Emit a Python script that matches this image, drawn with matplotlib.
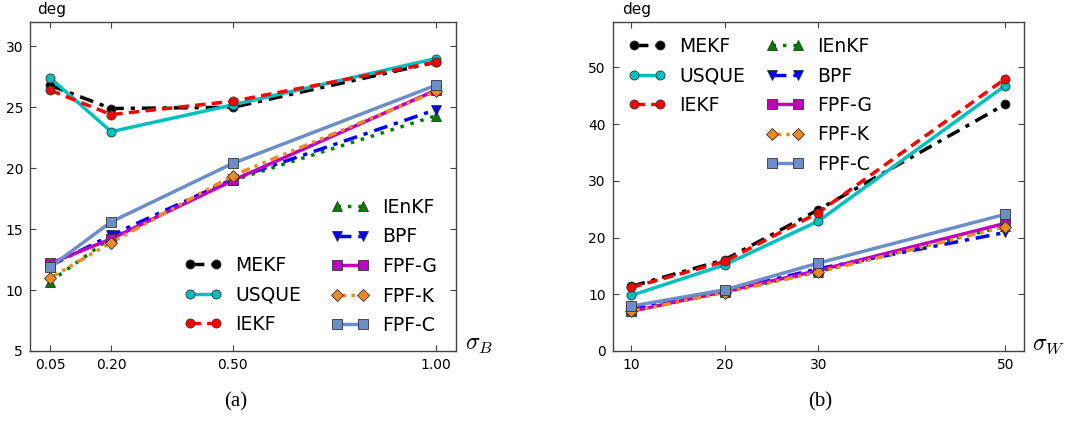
import matplotlib
matplotlib.use("Agg")
import matplotlib.pyplot as plt

# ---------------- data ----------------
sigma_B = [0.05, 0.20, 0.50, 1.00]
sigma_B_labels = ["0.05", "0.20", "0.50", "1.00"]
sigma_W = [10, 20, 30, 50]
sigma_W_labels = ["10", "20", "30", "50"]

a_MEKF = [26.8, 24.9, 25.0, 28.7]
a_USQUE = [27.4, 23.0, 25.2, 29.0]
a_IEKF = [26.4, 24.4, 25.5, 28.7]
a_IEnKF = [10.7, 14.3, 19.0, 24.3]
a_BPF = [12.0, 14.5, 19.1, 24.8]
a_FPFG = [12.2, 14.2, 19.0, 26.4]
a_FPFK = [11.0, 13.9, 19.4, 26.3]
a_FPFC = [11.9, 15.6, 20.4, 26.8]

b_MEKF = [11.4, 16.1, 24.9, 43.5]
b_USQUE = [9.8, 15.2, 22.9, 46.8]
b_IEKF = [11.2, 15.8, 24.4, 48.0]
b_IEnKF = [7.2, 10.4, 14.0, 22.0]
b_BPF = [7.6, 10.6, 14.5, 20.9]
b_FPFG = [7.0, 10.5, 14.2, 22.5]
b_FPFK = [7.0, 10.3, 13.9, 21.9]
b_FPFC = [7.9, 10.8, 15.5, 24.1]

names = ["MEKF", "USQUE", "IEKF", "IEnKF", "BPF", "FPF-G", "FPF-K", "FPF-C"]

styles = {
    "MEKF": dict(color="black", ls=(0, (4, 2, 1.2, 2)), marker="o", mfc="black"),
    "USQUE": dict(color="#00BFBF", ls="-", marker="o", mfc="#00BFBF"),
    "IEKF": dict(color="red", ls=(0, (3, 1.8)), marker="o", mfc="red"),
    "IEnKF": dict(color="#008000", ls=(0, (1, 2)), marker="^", mfc="#008000"),
    "BPF": dict(color="blue", ls=(0, (4, 2, 1.2, 2)), marker="v", mfc="blue"),
    "FPF-G": dict(color="#BF00BF", ls="-", marker="s", mfc="#BF00BF"),
    "FPF-K": dict(color="#EE8A22", ls=(0, (2.5, 1.5, 1, 1.5, 1, 1.5)), marker="D", mfc="#EE8A22"),
    "FPF-C": dict(color="#6C8EC8", ls="-", marker="s", mfc="#6C8EC8"),
}
ms = {"o": 6.5, "^": 6.8, "v": 6.8, "s": 6.5, "D": 6.0}

W, H = 1081, 422
plt.rcParams["font.family"] = ["DejaVu Sans"]
plt.rcParams["mathtext.fontset"] = "cm"
fig = plt.figure(figsize=(W / 100, H / 100), dpi=100)

def px_axes(x0, x1, y0, y1):
    return fig.add_axes([x0 / W, (H - y1) / H, (x1 - x0) / W, (y1 - y0) / H])

axA = px_axes(30, 456, 22, 351)
axB = px_axes(612.7, 1024, 22, 351)

edge = "#444444"

def draw(ax, xs, series):
    handles = {}
    for n, ys in zip(names, series):
        st = styles[n]
        h, = ax.plot(xs, ys, color=st["color"], ls=st["ls"], lw=2.5,
                     marker=st["marker"], ms=ms[st["marker"]], mfc=st["mfc"],
                     mec="#333333", mew=0.6, label=n)
        handles[n] = h
    for s in ax.spines.values():
        s.set_color(edge)
        s.set_linewidth(1.0)
    ax.tick_params(direction="in", length=4, width=0.8, color=edge,
                   top=True, right=True, labelsize=10, pad=5)
    return handles

hA = draw(axA, sigma_B, [a_MEKF, a_USQUE, a_IEKF, a_IEnKF, a_BPF, a_FPFG, a_FPFK, a_FPFC])
hB = draw(axB, sigma_W, [b_MEKF, b_USQUE, b_IEKF, b_IEnKF, b_BPF, b_FPFG, b_FPFK, b_FPFC])

axA.set_xlim(0.0, 1.05)
axA.set_ylim(5, 32)
axA.set_xticks(sigma_B)
axA.set_xticklabels(sigma_B_labels)
axA.set_yticks([5, 10, 15, 20, 25, 30])

axB.set_xlim(8, 52)
axB.set_ylim(0, 58)
axB.set_xticks(sigma_W)
axB.set_xticklabels(sigma_W_labels)
axB.set_yticks([0, 10, 20, 30, 40, 50])

legkw = dict(frameon=False, fontsize=13.5, borderpad=0, borderaxespad=0,
             handlelength=2.0, handletextpad=0.75, labelspacing=0.56,
             numpoints=2, loc="upper left")

g1 = ["MEKF", "USQUE", "IEKF"]
g2 = ["IEnKF", "BPF", "FPF-G", "FPF-K", "FPF-C"]

def ax_frac(x0, w, px, py):
    return ((px - x0) / w, (351 - py) / 329)

l1 = axA.legend([hA[n] for n in g2], g2, bbox_to_anchor=ax_frac(30, 426, 331, 198), **legkw)
axA.add_artist(l1)
axA.legend([hA[n] for n in g1], g1, bbox_to_anchor=ax_frac(30, 426, 184, 256), **legkw)

l2 = axB.legend([hB[n] for n in g2], g2, bbox_to_anchor=ax_frac(612.7, 411.3, 766, 37), **legkw)
axB.add_artist(l2)
axB.legend([hB[n] for n in g1], g1, bbox_to_anchor=ax_frac(612.7, 411.3, 628, 37), **legkw)

# axis labels
axA.text(1.02, 0.02, r"$\sigma_B$", transform=axA.transAxes, fontsize=17,
         ha="left", va="center")
axB.text(1.02, 0.02, r"$\sigma_W$", transform=axB.transAxes, fontsize=17,
         ha="left", va="center")
axA.text(0.016, 1.015, "deg", transform=axA.transAxes, fontsize=11,
         ha="left", va="bottom")
axB.text(0.022, 1.015, "deg", transform=axB.transAxes, fontsize=11,
         ha="left", va="bottom")

fig.text(236 / W, 1 - 402 / H, "(a)", fontsize=15, family=["Liberation Serif"],
         ha="center", va="center")
fig.text(820 / W, 1 - 402 / H, "(b)", fontsize=15, family=["Liberation Serif"],
         ha="center", va="center")

fig.savefig("out.png", dpi=100)
